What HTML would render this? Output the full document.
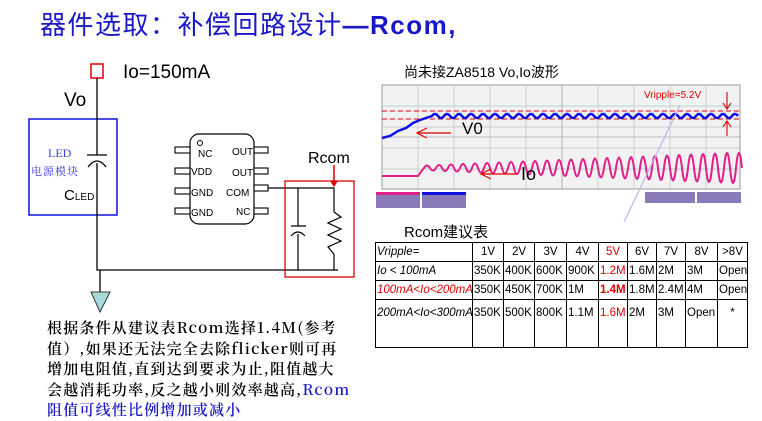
<!DOCTYPE html>
<html><head><meta charset="utf-8"><style>
body{margin:0;width:762px;height:419px;background:#fff;overflow:hidden;position:relative;font-family:"Liberation Sans","Noto Sans CJK SC",sans-serif}
.a{position:absolute;white-space:nowrap}
table{position:absolute;left:375px;top:242px;border-collapse:collapse;font-size:11.5px;font-family:"Liberation Sans",sans-serif;table-layout:fixed;width:372px}
td{border:1px solid #000;padding:0 1px;height:18px;vertical-align:middle;overflow:hidden;white-space:nowrap}
</style></head><body>
<div class="a" style="left:40px;top:5px;font-size:26px;letter-spacing:1.5px;color:#1818c8;font-family:'Liberation Sans','Noto Sans CJK SC',sans-serif">器件选取：补偿回路设计<b>—Rcom,</b></div>

<svg class="a" style="left:0;top:0" width="762" height="419">
<rect x="91" y="64" width="12" height="14" fill="none" stroke="#e00000" stroke-width="1.5"/>
<rect x="29" y="119" width="88" height="96" fill="none" stroke="#1010e0" stroke-width="1.5"/>
<path d="M97,78V133M97,188V270H338M87,155H107" stroke="#000" stroke-width="1.3" fill="none"/>
<path d="M97,133V155M97,163V188" stroke="#000" stroke-width="1.3" fill="none"/>
<path d="M88,167Q97,155 106,167" stroke="#000" stroke-width="1.3" fill="none"/>
<path d="M100,270V292" stroke="#000" stroke-width="1.3"/>
<polygon points="91,292 110,292 100,312" fill="#a8dcdc" stroke="#333"/>
<rect x="190" y="134" width="64" height="90" rx="9" fill="#fff" stroke="#000" stroke-width="1.2"/>
<circle cx="200" cy="143" r="2.5" fill="none" stroke="#000"/>
<g fill="#fff" stroke="#000" stroke-width="1.1">
<rect x="175" y="147" width="15" height="6"/><rect x="175" y="168" width="15" height="6"/><rect x="175" y="188" width="15" height="6"/><rect x="175" y="208" width="15" height="6"/>
<rect x="254" y="147" width="14" height="6"/><rect x="254" y="168" width="14" height="6"/><rect x="254" y="185" width="14" height="6"/><rect x="254" y="208" width="14" height="6"/>
</g>
<g font-size="10" font-family="Liberation Sans">
<text x="198" y="157">NC</text><text x="191" y="175">VDD</text><text x="191" y="196">GND</text><text x="191" y="216">GND</text>
<text x="232" y="155">OUT</text><text x="232" y="176">OUT</text><text x="226" y="196">COM</text><text x="236" y="215">NC</text>
</g>
<path d="M268,188H334V212M334,254V270M298,188V226M298,234V270M291,226H306" stroke="#000" stroke-width="1.2" fill="none"/>
<path d="M291,236Q298,228 305,236" stroke="#000" stroke-width="1.2" fill="none"/>
<path d="M334,212L341,217L328,223L341,229L328,235L341,241L328,247L334,254" stroke="#000" stroke-width="1.2" fill="none"/>
<rect x="285" y="181" width="69" height="96" fill="none" stroke="#e00000" stroke-width="1.3"/>
<path d="M334,165V183" stroke="#e00000" stroke-width="1.5"/>
<polygon points="330,181 338,181 334,187" fill="#e00000"/>
<rect x="382" y="85" width="358" height="104" fill="#f2f2f2" stroke="#999"/>
<g stroke="#c4c4c4" stroke-width="0.8">
<path d="M418,85V189M454,85V189M490,85V189M526,85V189M562,85V189M598,85V189M634,85V189M670,85V189M706,85V189M382,106H740M382,127H740M382,148H740M382,169H740"/>
</g>
<path d="M562,85V189M382,137H740" stroke="#aaa" stroke-width="0.8"/>
<path d="M382,111H740M382,119H740" stroke="#e00000" stroke-width="1" stroke-dasharray="5,3"/>
<path d="M382,138L390,136L398,131L406,128L413,123L420,120L426,118L432,116 q3,-4 6,0 t6,0 t6,0 t6,0 t6,0 t6,0 t6,0 t6,0 t6,0 t6,0 t6,0 t6,0 t6,0 t6,0 t6,0 t6,0 t6,0 t6,0 t6,0 t6,0 t6,0 t6,0 t6,0 t6,0 t6,0 t6,0 t6,0 t6,0 t6,0 t6,0 t6,0 t6,0 t6,0 t6,0 t6,0 t6,0 t6,0 t6,0 t6,0 t6,0 t6,0 t6,0 t6,0 t6,0 t6,0 t6,0 t6,0 t6,0 t6,0 t6,0 t6,0" stroke="#1010e0" stroke-width="2.5" fill="none"/>
<path d="M382,176H418L424,168 q3,-5 6,0 q3,5 6,0 q3,-6 6,0 q3,6 6,0 q3,-7 6,0 q3,7 6,0 q3,-8 6,0 q3,8 6,0 q3,-9 6,0 q3,9 6,0 q3,-10 6,0 q3,10 6,0 q3,-11 6,0 q3,11 6,0 q3,-12 6,0 q3,12 6,0 q3,-13 6,0 q3,13 6,0 q3,-14 6,0 q3,14 6,0 q3,-15 6,0 q3,15 6,0 q3,-16 6,0 q3,16 6,0 q3,-17 6,0 q3,17 6,0 q3,-18 6,0 q3,18 6,0 q3,-19 6,0 q3,19 6,0 q3,-20 6,0 q3,20 6,0 q3,-21 6,0 q3,21 6,0 q3,-22 6,0 q3,22 6,0 q3,-23 6,0 q3,23 6,0 q3,-24 6,0 q3,24 6,0 q3,-25 6,0 q3,25 6,0 q3,-26 6,0 q3,26 6,0 q3,-27 6,0 q3,27 6,0 q3,-28 6,0 q3,28 6,0 q3,-29 6,0 q3,29 6,0 q3,-30 6,0 q3,30 6,0 q3,-30 6,0" stroke="#e0208a" stroke-width="2" fill="none"/>
<path d="M451,133H417M427,128L417,133L427,138" stroke="#e00000" stroke-width="1.2" fill="none"/>
<path d="M517,174H481M491,169L481,174L491,179" stroke="#e00000" stroke-width="1.2" fill="none"/>
<path d="M727,92V109M723,103L727,109L731,103M727,136V121M723,127L727,121L731,127" stroke="#e00000" stroke-width="1.1" fill="none"/>
<path d="M680,105L624,222" stroke="#b8b8e8" stroke-width="1.2"/>
<rect x="376" y="192" width="44" height="16" fill="#8a7ab8"/><rect x="376" y="192" width="44" height="3" fill="#e0208a"/>
<rect x="422" y="192" width="44" height="16" fill="#8a7ab8"/><rect x="422" y="192" width="44" height="3" fill="#1010e0"/>
<rect x="645" y="192" width="50" height="11" fill="#8a7ab8"/><rect x="697" y="192" width="44" height="11" fill="#8a7ab8"/>
</svg>

<div class="a" style="left:123px;top:62px;font-size:19px">Io=150mA</div>
<div class="a" style="left:64px;top:90px;font-size:19px">Vo</div>
<div class="a" style="left:48px;top:146px;font-size:12px;color:#4040e0;font-family:'Liberation Serif',serif">LED</div>
<div class="a" style="left:31px;top:163px;font-size:11px;color:#4040e0;font-family:'Noto Serif CJK SC',serif;letter-spacing:1px">电源模块</div>
<div class="a" style="left:64px;top:187px;font-size:15px">C<span style="font-size:10px">LED</span></div>
<div class="a" style="left:308px;top:150px;font-size:16px">Rcom</div>
<div class="a" style="left:404px;top:62px;font-size:14px">尚未接ZA8518 Vo,Io波形</div>
<div class="a" style="left:462px;top:119px;font-size:17px">V0</div>
<div class="a" style="left:521px;top:164px;font-size:18px">Io</div>
<div class="a" style="left:644px;top:90px;font-size:10px;color:#e00000">Vripple=5.2V</div>
<div class="a" style="left:404px;top:221px;font-size:15px">Rcom建议表</div>

<table>
<colgroup><col style="width:97px"><col style="width:31px"><col style="width:31px"><col style="width:32px"><col style="width:32px"><col style="width:29px"><col style="width:29px"><col style="width:29px"><col style="width:32px"><col style="width:30px"></colgroup>
<tr><td><i>Vripple=</i></td><td style="text-align:center">1V</td><td style="text-align:center">2V</td><td style="text-align:center">3V</td><td style="text-align:center">4V</td><td style="text-align:center;color:#e00000">5V</td><td style="text-align:center">6V</td><td style="text-align:center">7V</td><td style="text-align:center">8V</td><td style="text-align:center">&gt;8V</td></tr>
<tr><td><i>Io &lt; 100mA</i></td><td>350K</td><td>400K</td><td>600K</td><td>900K</td><td style="color:#e00000">1.2M</td><td>1.6M</td><td>2M</td><td>3M</td><td>Open</td></tr>
<tr><td style="color:#e00000"><i>100mA&lt;Io&lt;200mA</i></td><td>350K</td><td>450K</td><td>700K</td><td>1M</td><td style="color:#e00000"><b>1.4M</b></td><td>1.8M</td><td>2.4M</td><td>4M</td><td>Open</td></tr>
<tr><td style="height:40px;vertical-align:top;padding-top:7px"><i>200mA&lt;Io&lt;300mA</i></td><td style="vertical-align:top;padding-top:7px">350K</td><td style="vertical-align:top;padding-top:7px">500K</td><td style="vertical-align:top;padding-top:7px">800K</td><td style="vertical-align:top;padding-top:7px">1.1M</td><td style="vertical-align:top;padding-top:7px;color:#e00000">1.6M</td><td style="vertical-align:top;padding-top:7px">2M</td><td style="vertical-align:top;padding-top:7px">3M</td><td style="vertical-align:top;padding-top:7px">Open</td><td style="vertical-align:top;padding-top:7px;text-align:center">*</td></tr>
</table>

<div class="a" style="left:47px;top:318px;font-size:15px;letter-spacing:1.2px;line-height:20.5px;font-family:'Noto Serif CJK SC',serif;color:#000;font-weight:600;white-space:nowrap">根据条件从建议表Rcom选择1.4M(参考<br>值）,如果还无法完全去除flicker则可再<br>增加电阻值,直到达到要求为止,阻值越大<br>会越消耗功率,反之越小则效率越高,<span style="color:#1818c8">Rcom</span><br><span style="color:#1818c8">阻值可线性比例增加或减小</span></div>
</body></html>
